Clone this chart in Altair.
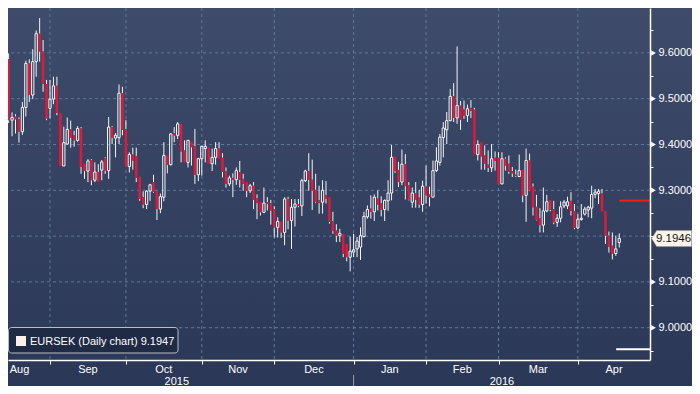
import altair as alt
import pandas as pd

# ---------------- data ----------------
first_day = "2015-08-12"   # first bar shown; one bar per weekday
opens = [9.574, 9.559, 9.586, 9.453, 9.461, 9.455, 9.428, 9.481, 9.577, 9.508,
         9.581, 9.642, 9.603, 9.532, 9.479, 9.499, 9.528, 9.469, 9.353, 9.401,
         9.433, 9.420, 9.409, 9.435, 9.358, 9.342, 9.366, 9.322, 9.340, 9.344,
         9.370, 9.343, 9.438, 9.414, 9.415, 9.512, 9.434, 9.352, 9.378, 9.375,
         9.330, 9.285, 9.269, 9.298, 9.318, 9.298, 9.259, 9.285, 9.376, 9.356,
         9.425, 9.420, 9.445, 9.387, 9.361, 9.407, 9.396, 9.334, 9.369, 9.391,
         9.394, 9.358, 9.372, 9.391, 9.371, 9.342, 9.314, 9.327, 9.323, 9.340,
         9.325, 9.318, 9.299, 9.310, 9.283, 9.274, 9.252, 9.274, 9.272, 9.259,
         9.219, 9.232, 9.208, 9.281, 9.234, 9.263, 9.270, 9.266, 9.321, 9.342,
         9.323, 9.301, 9.278, 9.274, 9.289, 9.285, 9.233, 9.212, 9.201, 9.205,
         9.183, 9.154, 9.165, 9.172, 9.176, 9.199, 9.242, 9.260, 9.253, 9.282,
         9.272, 9.258, 9.277, 9.294, 9.374, 9.344, 9.318, 9.357, 9.311, 9.274,
         9.294, 9.284, 9.269, 9.308, 9.291, 9.285, 9.343, 9.361, 9.415, 9.432,
         9.452, 9.505, 9.458, 9.485, 9.476, 9.463, 9.480, 9.476, 9.378, 9.405,
         9.376, 9.356, 9.349, 9.371, 9.371, 9.314, 9.369, 9.358, 9.342, 9.334,
         9.330, 9.345, 9.289, 9.365, 9.308, 9.264, 9.239, 9.224, 9.255, 9.279,
         9.259, 9.230, 9.239, 9.266, 9.266, 9.277, 9.255, 9.218, 9.236, 9.248,
         9.257, 9.261, 9.291, 9.293, 9.293, 9.255, 9.201, 9.179, 9.162, 9.186]
highs = [9.620, 9.599, 9.599, 9.470, 9.466, 9.459, 9.493, 9.583, 9.586, 9.608,
         9.649, 9.676, 9.628, 9.541, 9.541, 9.548, 9.548, 9.469, 9.439, 9.459,
         9.452, 9.430, 9.440, 9.438, 9.358, 9.368, 9.368, 9.361, 9.357, 9.366,
         9.372, 9.460, 9.440, 9.425, 9.531, 9.526, 9.453, 9.383, 9.393, 9.393,
         9.330, 9.298, 9.300, 9.314, 9.334, 9.298, 9.293, 9.405, 9.376, 9.425,
         9.438, 9.449, 9.445, 9.409, 9.410, 9.407, 9.434, 9.371, 9.398, 9.409,
         9.394, 9.391, 9.405, 9.405, 9.381, 9.350, 9.332, 9.337, 9.350, 9.364,
         9.336, 9.318, 9.314, 9.318, 9.291, 9.274, 9.306, 9.285, 9.279, 9.265,
         9.241, 9.232, 9.285, 9.286, 9.281, 9.281, 9.281, 9.325, 9.345, 9.381,
         9.367, 9.336, 9.310, 9.322, 9.320, 9.285, 9.253, 9.226, 9.216, 9.205,
         9.183, 9.199, 9.205, 9.198, 9.219, 9.253, 9.267, 9.289, 9.291, 9.300,
         9.287, 9.280, 9.322, 9.399, 9.374, 9.362, 9.389, 9.379, 9.318, 9.306,
         9.318, 9.301, 9.321, 9.354, 9.308, 9.365, 9.394, 9.423, 9.449, 9.471,
         9.521, 9.534, 9.614, 9.495, 9.496, 9.487, 9.497, 9.480, 9.409, 9.405,
         9.398, 9.387, 9.401, 9.385, 9.383, 9.383, 9.372, 9.376, 9.351, 9.345,
         9.378, 9.345, 9.391, 9.380, 9.315, 9.290, 9.261, 9.306, 9.290, 9.279,
         9.277, 9.248, 9.276, 9.279, 9.286, 9.296, 9.270, 9.248, 9.270, 9.264,
         9.266, 9.310, 9.303, 9.303, 9.303, 9.255, 9.210, 9.208, 9.201, 9.206]
lows = [9.559, 9.552, 9.447, 9.418, 9.424, 9.404, 9.421, 9.461, 9.493, 9.499,
        9.548, 9.581, 9.515, 9.453, 9.457, 9.488, 9.464, 9.353, 9.353, 9.400,
        9.393, 9.395, 9.406, 9.336, 9.325, 9.318, 9.311, 9.318, 9.318, 9.322,
        9.336, 9.325, 9.401, 9.372, 9.401, 9.420, 9.352, 9.339, 9.345, 9.318,
        9.277, 9.261, 9.259, 9.277, 9.294, 9.235, 9.250, 9.276, 9.337, 9.354,
        9.405, 9.412, 9.361, 9.361, 9.350, 9.354, 9.314, 9.320, 9.332, 9.361,
        9.358, 9.342, 9.356, 9.369, 9.328, 9.306, 9.309, 9.285, 9.312, 9.306,
        9.299, 9.285, 9.294, 9.259, 9.237, 9.245, 9.250, 9.256, 9.225, 9.197,
        9.197, 9.196, 9.180, 9.215, 9.172, 9.221, 9.263, 9.244, 9.318, 9.299,
        9.257, 9.272, 9.249, 9.249, 9.271, 9.227, 9.205, 9.187, 9.187, 9.154,
        9.145, 9.123, 9.154, 9.154, 9.148, 9.197, 9.238, 9.238, 9.233, 9.256,
        9.243, 9.233, 9.255, 9.278, 9.338, 9.307, 9.311, 9.280, 9.278, 9.262,
        9.262, 9.262, 9.253, 9.271, 9.265, 9.285, 9.340, 9.354, 9.372, 9.401,
        9.451, 9.449, 9.445, 9.432, 9.456, 9.449, 9.458, 9.378, 9.365, 9.345,
        9.345, 9.340, 9.340, 9.343, 9.313, 9.313, 9.343, 9.336, 9.329, 9.329,
        9.329, 9.274, 9.231, 9.299, 9.245, 9.234, 9.208, 9.208, 9.252, 9.254,
        9.226, 9.220, 9.230, 9.261, 9.259, 9.245, 9.215, 9.215, 9.234, 9.245,
        9.241, 9.239, 9.283, 9.270, 9.254, 9.183, 9.164, 9.149, 9.157, 9.175]
closes = [9.559, 9.586, 9.453, 9.459, 9.455, 9.428, 9.481, 9.577, 9.508, 9.581,
          9.642, 9.603, 9.532, 9.457, 9.499, 9.528, 9.469, 9.353, 9.404, 9.433,
          9.415, 9.409, 9.435, 9.351, 9.342, 9.364, 9.322, 9.340, 9.318, 9.362,
          9.343, 9.438, 9.415, 9.420, 9.512, 9.432, 9.352, 9.378, 9.365, 9.327,
          9.281, 9.269, 9.298, 9.312, 9.296, 9.259, 9.286, 9.376, 9.356, 9.423,
          9.420, 9.445, 9.385, 9.361, 9.409, 9.394, 9.334, 9.369, 9.396, 9.396,
          9.358, 9.372, 9.391, 9.369, 9.340, 9.314, 9.327, 9.323, 9.343, 9.323,
          9.314, 9.299, 9.310, 9.279, 9.272, 9.252, 9.272, 9.270, 9.256, 9.219,
          9.232, 9.208, 9.281, 9.234, 9.263, 9.270, 9.266, 9.321, 9.342, 9.323,
          9.299, 9.274, 9.272, 9.300, 9.282, 9.231, 9.211, 9.201, 9.206, 9.161,
          9.154, 9.167, 9.170, 9.189, 9.201, 9.243, 9.258, 9.253, 9.285, 9.269,
          9.258, 9.278, 9.294, 9.372, 9.342, 9.318, 9.357, 9.309, 9.280, 9.294,
          9.280, 9.269, 9.309, 9.289, 9.285, 9.343, 9.364, 9.416, 9.436, 9.452,
          9.505, 9.458, 9.485, 9.454, 9.463, 9.478, 9.474, 9.378, 9.400, 9.374,
          9.358, 9.349, 9.369, 9.364, 9.313, 9.369, 9.354, 9.340, 9.337, 9.331,
          9.343, 9.289, 9.365, 9.300, 9.263, 9.235, 9.224, 9.255, 9.275, 9.257,
          9.230, 9.239, 9.264, 9.274, 9.275, 9.255, 9.218, 9.237, 9.239, 9.259,
          9.263, 9.291, 9.296, 9.298, 9.254, 9.201, 9.177, 9.162, 9.172, 9.195]

last_price = 9.1946
legend_text = "EURSEK (Daily chart) 9.1947"
red_level = 9.2775
white_level = 8.953
y_minor = [8.95, 9.0, 9.05, 9.1, 9.15, 9.2, 9.25, 9.3, 9.35, 9.4, 9.45, 9.5, 9.55, 9.6, 9.65]
y_major = [9.0, 9.1, 9.2, 9.3, 9.4, 9.5, 9.6]
year_names = ["2015", "2016"]

# ---------------- layout ----------------
W, H = 642, 352          # plot area
PR, PB = 42, 26          # room for the right axis and the month/year rows
X_DOM = [1.826, 187.91]
Y_DOM = [8.9295, 9.698]
FONT = "Liberation Sans, Arial, sans-serif"
BG_TOP, BG_BOT = "#3e4b6a", "#2a3757"
GRID = "#5d7a9c"
RED = "#dc1a3c"
WHITE = "#f4f4f4"

xs = alt.Scale(domain=X_DOM, nice=False, zero=False)
ys = alt.Scale(domain=Y_DOM, nice=False, zero=False)

# trading-day index of each weekday
n = len(closes)
cal = pd.bdate_range("2015-08-03", "2016-05-31")
off = cal.get_loc(pd.Timestamp(first_day))
cal_df = pd.DataFrame({"d": cal, "i": list(range(-off, len(cal) - off))})
cal_df["ym"] = cal_df["d"].dt.strftime("%Y-%m")
firsts = cal_df.groupby("ym").agg(i=("i", "min"), d=("d", "min")).reset_index()
firsts["next"] = firsts["i"].shift(-1)
firsts = firsts.dropna()
min_center = X_DOM[0] + 11.5 / 3.45   # keep the first label inside the picture
months = pd.DataFrame({
    "label": firsts["d"].dt.strftime("%b").tolist(),
    "i": [int(v) for v in firsts["i"]],
    "center": [max(float(a + b) / 2, min_center) for a, b in zip(firsts["i"], firsts["next"])],
})
boundaries = [v for v in months["i"].tolist() if v > X_DOM[0]]

jan_idx = int(months.loc[months["label"] == "Jan", "i"].iloc[0])
years = pd.DataFrame({"label": year_names,
                      "center": [(-0.5 + jan_idx) / 2, (jan_idx + 188) / 2]})

df = pd.DataFrame({"i": list(range(n)), "o": opens, "h": highs, "l": lows, "c": closes})
df["top"] = df[["o", "c"]].max(axis=1)
df["bot"] = df[["o", "c"]].min(axis=1)
df["top"] = [max(t, b + 0.002) for t, b in zip(df["top"], df["bot"])]
df["up"] = df["c"] >= df["o"]
df["xl"] = df["i"] - 0.37
df["xr"] = df["i"] + 0.37
df["hl"] = df["i"] - 0.33
df["hr"] = df["i"] + 0.33

wicks = pd.concat([
    pd.DataFrame({"i": df["i"], "a": df["h"], "b": df["top"]}),
    pd.DataFrame({"i": df["i"], "a": df["bot"], "b": df["l"]}),
], ignore_index=True)

one = pd.DataFrame({"k": [0]})

# labelled ticks, except the one hidden under the last-price tag
shown_major = [v for v in y_major if abs(v - last_price) > 0.02]
hide = " && ".join(f"abs(datum.value - {v}) > 0.001" for v in y_major if v not in shown_major)
label_expr = ("(round(datum.value*100) % 10 == 0" + (" && " + hide if hide else "") +
              ") ? format(datum.value, '.4f') : ''")

# one shared axis definition for every layer (a layer with axis=None would hide it)
y_axis = alt.Axis(
    orient="right", values=y_minor, title=None, grid=False, zindex=2,
    labelExpr=label_expr,
    tickSize=3, tickColor="white", tickWidth=1, domainColor="white", domainWidth=1.5,
    labelColor="white", labelFont=FONT, labelFontSize=11, labelPadding=5,
    labelAlign="left", labelBaseline="middle", labelOverlap=False, labelFlush=False,
    labelBound=False)
x_axis = alt.Axis(
    values=boundaries, labels=False, title=None, grid=False, tickSize=4, zindex=2,
    tickColor="white", tickWidth=1, domainColor="white", domainWidth=1.5)


def X(f):
    return alt.X(f, scale=xs, axis=x_axis)


def Y(f):
    return alt.Y(f, scale=ys, axis=y_axis)


bg = alt.Chart(one).mark_rect(
    color=alt.Gradient(gradient="linear",
                       stops=[alt.GradientStop(color=BG_TOP, offset=0),
                              alt.GradientStop(color=BG_BOT, offset=1)],
                       x1=0, x2=0, y1=0, y2=1)
).encode(x=alt.value(0), x2=alt.value(W + PR), y=alt.value(0), y2=alt.value(H + PB))

hgrid = alt.Chart(pd.DataFrame({"v": y_major})).mark_rule(
    color=GRID, strokeDash=[3, 3], strokeWidth=1).encode(y=Y("v:Q"))

vgrid = alt.Chart(pd.DataFrame({"b": boundaries})).mark_rule(
    color=GRID, strokeDash=[3, 3], strokeWidth=1).encode(x=X("b:Q"))

wick = alt.Chart(wicks).mark_rule(color=WHITE, strokeWidth=1).encode(
    x=X("i:Q"), y=Y("a:Q"), y2="b:Q")

red_body = alt.Chart(df[~df["up"]]).mark_rect(color=RED).encode(
    x=X("xl:Q"), x2="xr:Q", y=Y("top:Q"), y2="bot:Q")

white_body = alt.Chart(df[df["up"]]).mark_rect(
    fillOpacity=0, stroke=WHITE, strokeWidth=1
).encode(x=X("hl:Q"), x2="hr:Q", y=Y("top:Q"), y2="bot:Q")

levels = pd.DataFrame({"x0": [n - 1, n - 1.9], "x1": [X_DOM[1], X_DOM[1]],
                       "v": [red_level, white_level], "col": ["#ff1a1a", "#ffffff"]})
level_rules = alt.Chart(levels).mark_rule(strokeWidth=2).encode(
    x=X("x0:Q"), x2="x1:Q", y=Y("v:Q"), color=alt.Color("col:N", scale=None))

legend_box = alt.Chart(one).mark_rect(
    fill="#1f2a45", stroke="#b9bdc6", strokeWidth=1, cornerRadius=3
).encode(x=alt.value(0.5), x2=alt.value(170), y=alt.value(319.5), y2=alt.value(345))
legend_sq = alt.Chart(one).mark_rect(fill="#fdf0ea").encode(
    x=alt.value(8), x2=alt.value(18), y=alt.value(328), y2=alt.value(338))
legend_txt = alt.Chart(pd.DataFrame({"t": [legend_text]})).mark_text(
    align="left", baseline="alphabetic", font=FONT, fontSize=11, color="white"
).encode(x=alt.value(22), y=alt.value(337), text="t:N")

month_txt = alt.Chart(months).mark_text(
    align="center", baseline="alphabetic", font=FONT, fontSize=11, color="white"
).encode(x=X("center:Q"), y=alt.value(H + 13), text="label:N")
year_txt = alt.Chart(years).mark_text(
    align="center", baseline="alphabetic", font=FONT, fontSize=11, color="white"
).encode(x=X("center:Q"), y=alt.value(H + 25), text="label:N")
year_div = alt.Chart(pd.DataFrame({"b": [jan_idx]})).mark_rule(
    color="#9aa1ad", strokeWidth=1
).encode(x=X("b:Q"), y=alt.value(H + 15), y2=alt.value(H + PB))

arrows = alt.Chart(pd.DataFrame({"v": shown_major})).mark_point(
    shape="triangle-right", filled=True, color="white", size=30, opacity=1
).encode(x=alt.value(W + 3.5), y=Y("v:Q"))

tag = alt.Chart(pd.DataFrame({"v": [last_price]})).mark_point(
    shape="M-1,0L-0.75,-0.4L1,-0.4L1,0.4L-0.75,0.4Z", filled=True,
    fill="#fdf4e8", stroke="#9a9a9a", strokeWidth=0.5, size=1600, opacity=1
).encode(x=alt.value(W + 21.7), y=Y("v:Q"))
tag_txt = alt.Chart(pd.DataFrame({"v": [last_price], "t": [f"{last_price:.4f}"]})).mark_text(
    align="center", baseline="middle", font=FONT, fontSize=11.5, color="#151515"
).encode(x=alt.value(W + 23.5), y=Y("v:Q"), text="t:N")

chart = alt.layer(
    bg, hgrid, vgrid, wick, red_body, white_body, level_rules,
    legend_box, legend_sq, legend_txt, month_txt, year_txt, year_div,
    arrows, tag, tag_txt
).properties(
    width=W, height=H,
    autosize=alt.AutoSizeParams(type="none"),
    padding={"left": 0, "top": 0, "right": PR, "bottom": PB},
    background=BG_BOT,
).configure_view(stroke=None)

chart.save("out.html", embed_options={"renderer": "svg", "actions": False})
